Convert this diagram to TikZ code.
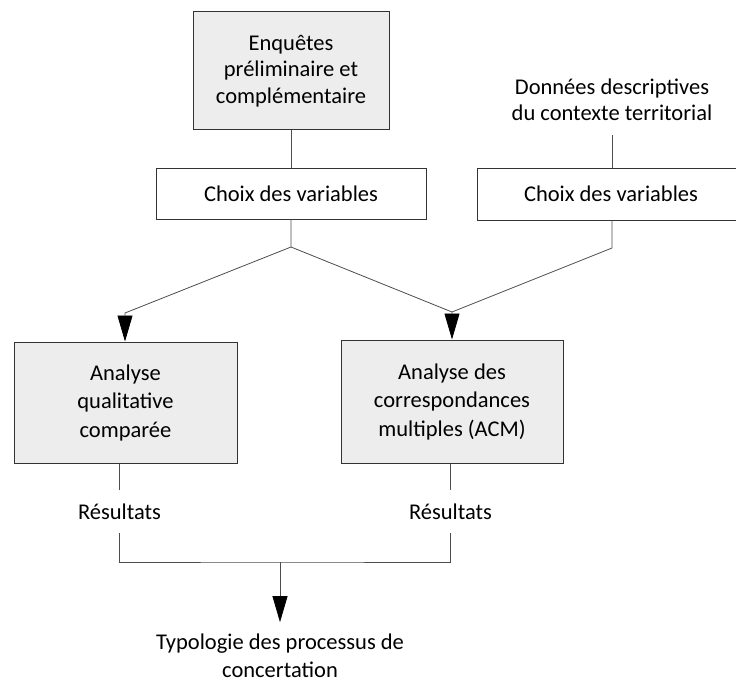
\documentclass[tikz,border=0pt]{standalone}
\usepackage{fontspec}
\setmainfont{Carlito}
\usetikzlibrary{arrows.meta}

\begin{document}
\begin{tikzpicture}[x=1pt,y=1pt,
    every node/.style={font=\fontsize{22.5}{26.5}\selectfont,align=center},
    box/.style={draw=black!80,line width=1pt,inner sep=0pt},
    greybox/.style={box,fill=black!7},
    widebox/.style={greybox,font=\fontsize{22.5}{28.5}\selectfont},
    plain/.style={inner sep=2pt},
    flow/.style={draw=black!70,line width=.8pt},
    tip/.style={flow,-{Triangle[width=15pt,length=26pt,black]}}]
\useasboundingbox (0,0) rectangle (736,-682);

\node[greybox,minimum width=196,minimum height=118] (enq)    at (291  ,-71   ) {Enquêtes\\préliminaire et\\complémentaire};
\node[box,minimum width=270,minimum height=51]      (choixA) at (291  ,-193.5) {Choix des variables};
\node[plain]                                        (donnees) at (612 ,-100  ) {Données descriptives\\du contexte territorial};
\node[box,minimum width=268,minimum height=52]      (choixB) at (611  ,-194  ) {Choix des variables};
\node[widebox,minimum width=223,minimum height=121] (analyseA) at (125.5,-402.5) {Analyse\\qualitative\\comparée};
\node[widebox,minimum width=222,minimum height=123] (analyseB) at (452 ,-401.5) {Analyse des\\correspondances\\multiples (ACM)};
\node[plain,minimum height=43] (resA) at (119.5,-511.5) {Résultats};
\node[plain,minimum height=43] (resB) at (450.5,-511.5) {Résultats};
\node[plain,font=\fontsize{22.5}{27.5}\selectfont]
                               (typo) at (280  ,-656  ) {Typologie des processus de\\concertation};

\coordinate (forkA) at (291,-247);
\coordinate (forkB) at (612,-248);
\coordinate (kneeA) at (125,-313);
\coordinate (kneeB) at (452,-312);
\coordinate (join)  at (280,-562);

\draw[flow] (enq) -- (choixA);
\draw[flow,shorten <=12pt] (donnees.south) -- (donnees.south |- choixB.north);
\draw[tip]
    (choixA) -- (forkA) -- (kneeA) -- (kneeA |- analyseA.north);
\draw[tip]
    (forkB |- choixB.south) -- (forkB) -- (kneeB) -- (kneeB |- analyseB.north);
\draw[flow] (forkA) -- (kneeB);
\draw[flow] (resA.north) -- (resA.north |- analyseA.south);
\draw[flow] (resB.north) -- (resB.north |- analyseB.south);
\draw[flow] (resA.south) |- (join) -| (resB.south);
\draw[tip,shorten >=10pt]  (join) -- (typo);
\end{tikzpicture}
\end{document}
